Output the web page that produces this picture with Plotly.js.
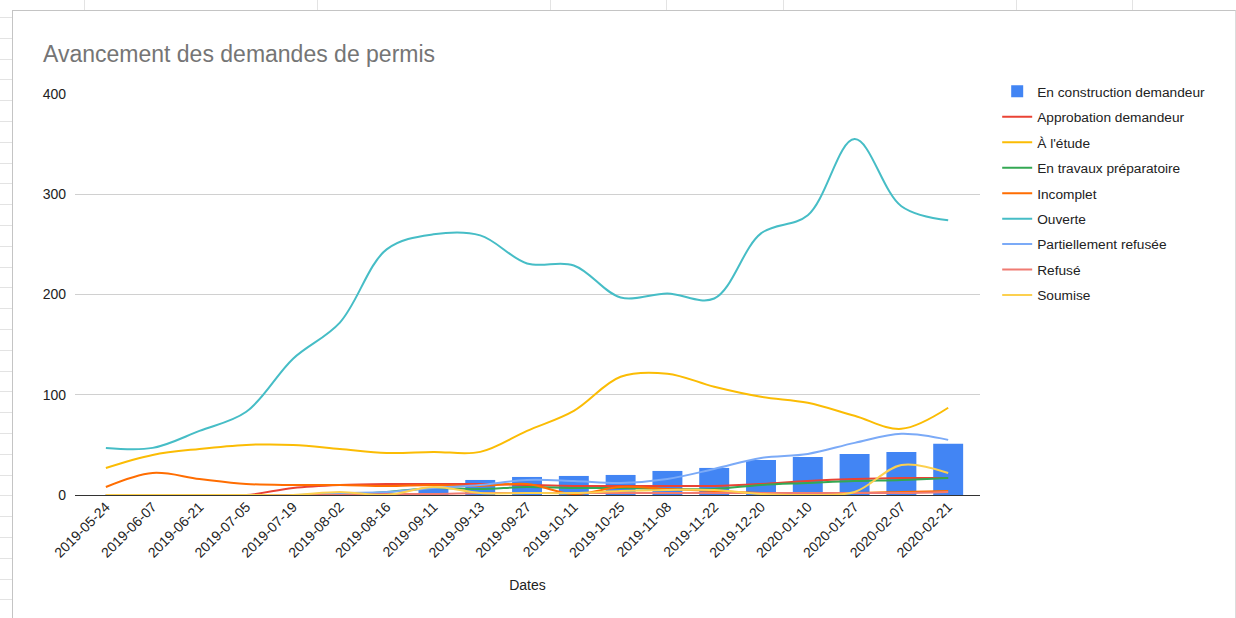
<!DOCTYPE html>
<html>
<head>
<meta charset="utf-8">
<script src="https://cdn.plot.ly/plotly-3.0.1.min.js"></script>
<style>
  html, body { margin: 0; padding: 0; width: 1236px; height: 618px; overflow: hidden; background: #ffffff; }
  #leftstrip { position: absolute; left: 0; top: 0; width: 12px; height: 618px;
    background: repeating-linear-gradient(to bottom, transparent 0px, transparent 17px, #e3e3e3 17px, #e3e3e3 18px, transparent 18px, transparent 20.8px); }
  #topstrip { position: absolute; left: 0; top: 0; width: 1236px; height: 10px;
    background: repeating-linear-gradient(to right, transparent 0px, transparent 84px, #e3e3e3 84px, #e3e3e3 85px, transparent 85px, transparent 116.5px); }
  #frame { position: absolute; left: 12px; top: 10px; width: 1222px; height: 608px;
    border-left: 1px solid #c4c4c4; border-top: 1px solid #c4c4c4; border-right: 1px solid #dcdcdc; background: #fff; }
  #chart { position: absolute; left: 1px; top: 1px; width: 1221px; height: 607px; }
</style>
</head>
<body>
<div id="leftstrip"></div>
<div id="topstrip"></div>
<div id="frame"><div id="chart"></div></div>
<script>
// ---- Data ----
const dates = ['2019-05-24','2019-06-07','2019-06-21','2019-07-05','2019-07-19','2019-08-02','2019-08-16','2019-09-11','2019-09-13','2019-09-27','2019-10-11','2019-10-25','2019-11-08','2019-11-22','2019-12-20','2020-01-10','2020-01-27','2020-02-07','2020-02-21'];
const enConstruction = [0,0,0,0,0,0,2,7,15,18,19,20,24,27,35,38,41,43,51];
const approbation    = [0,0,0,0,7,10,11,11,11,10,9,9,9,9,11,14,16,17,17];
const etude          = [27,40,46,50,50,46,42,43,43,64,84,118,121,108,98,92,79,66,87];
const travaux        = [0,0,0,0,0,0,3,7,6,8,7,7,6,6,10,12,14,15,17];
const incomplet      = [8,22,16,11,10,10,9,10,9,11,1,8,6,4,2,2,2,3,4];
const ouverte        = [47,47,64,83,136,172,245,260,259,231,229,197,201,196,261,279,355,288,274];
const partiel        = [0,0,0,0,0,2,3,7,10,15,14,12,16,26,37,41,52,61,55];
const refuse         = [0,0,0,0,0,0,1,1,2,2,2,2,2,2,2,2,2,2,3];
const soumise        = [0,0,0,0,0,3,0,8,2,2,2,4,5,5,1,0,3,30,22];

const seriesNames = ['En construction demandeur','Approbation demandeur',"À l'étude",'En travaux préparatoire','Incomplet','Ouverte','Partiellement refusée','Refusé','Soumise'];
const colors = ['#4285f4','#ea4335','#fbbc04','#34a853','#ff6d01','#46bdc6','#7baaf7','#f07b72','#fcd04f'];
const lineSeries = [approbation, etude, travaux, incomplet, ouverte, partiel, refuse, soumise];

const traces = [{
  type: 'bar', x: dates, y: enConstruction, name: seriesNames[0],
  marker: { color: colors[0] }, legendgroup: 'g0', hoverinfo: 'none'
}];
lineSeries.forEach((s, i) => {
  traces.push({
    type: 'scatter', mode: 'lines', x: dates, y: s, name: seriesNames[i + 1],
    line: { color: colors[i + 1], width: 2, shape: 'spline', smoothing: 1 },
    legendgroup: 'g' + (i + 1), hoverinfo: 'none'
  });
});

const layout = {
  width: 1221, height: 607,
  margin: { l: 61, r: 255, t: 82, b: 124, pad: 0 },
  paper_bgcolor: '#ffffff', plot_bgcolor: '#ffffff',
  font: { family: 'Liberation Sans, Arial, sans-serif', color: '#222222', size: 14 },
  title: { text: 'Avancement des demandes de permis', x: 29 / 1221, xanchor: 'left', xref: 'container',
           y: 1 - 42 / 607, yanchor: 'middle', yref: 'container',
           font: { family: 'Liberation Sans, Arial, sans-serif', size: 23, color: '#757575' } },
  bargap: 0.36,
  showlegend: true,
  legend: { x: 1.019, xanchor: 'left', y: 1.045, yanchor: 'top', tracegroupgap: 4.65,
            font: { size: 13.7, color: '#222222' }, bgcolor: 'rgba(0,0,0,0)' },
  xaxis: { type: 'category', range: [-0.66, 18.68], tickangle: -45, showgrid: false, zeroline: false,
           showline: false, ticks: '', tickfont: { size: 14, color: '#222222' },
           title: { text: 'Dates', font: { size: 14, color: '#222222' }, standoff: 20 } },
  yaxis: { range: [0, 400], tickvals: [0, 100, 200, 300, 400], showgrid: true, gridcolor: '#d0d0d0', gridwidth: 1,
           zeroline: true, zerolinecolor: '#333333', zerolinewidth: 1, ticks: '', ticklabelstandoff: 8,
           tickfont: { size: 14, color: '#222222' }, showline: false, fixedrange: true }
};

Plotly.newPlot('chart', traces, layout, { displayModeBar: false, staticPlot: true });
</script>
</body>
</html>
